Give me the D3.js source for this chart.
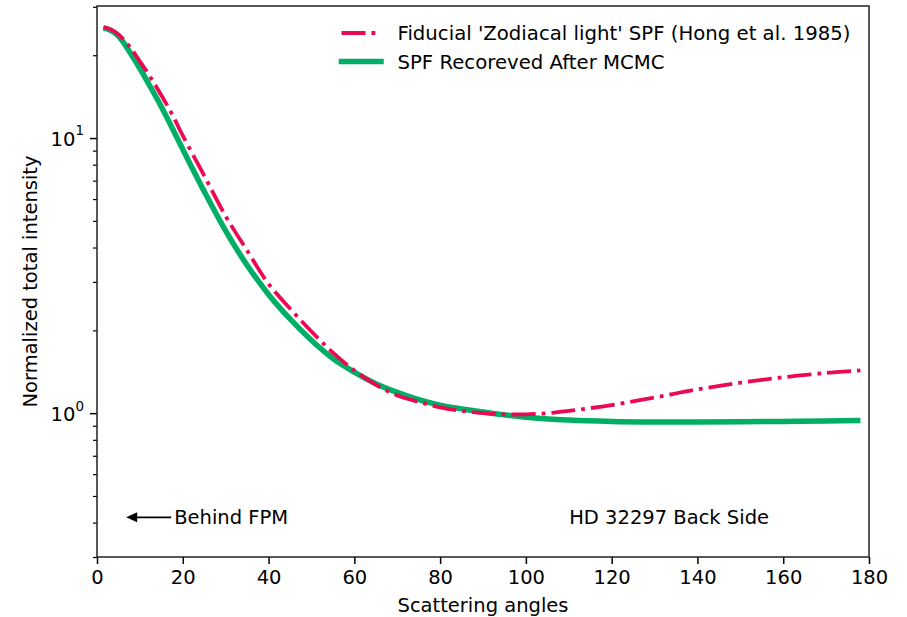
<!DOCTYPE html>
<html>
<head>
<meta charset="utf-8">
<script src="https://cdn.jsdelivr.net/npm/d3@7"></script>
<style>
  body { margin: 0; background: #fff; }
  svg { font-family: "DejaVu Sans", sans-serif; }
</style>
</head>
<body>
  <script>
    // scattering angle (deg) and normalized total intensity
    const fiducialAngles = [1.5, 3, 5, 7.5, 10, 12.5, 15, 17.5, 20, 25, 30, 35, 40, 45, 50, 55, 60, 65, 70, 75, 80, 85, 90, 95, 100, 105, 110, 120, 130, 140, 150, 160, 170, 178];
    const fiducialValues = [25.3, 24.9, 23.8, 21.6, 19.0, 16.6, 14.3, 12.2, 10.2, 7.3, 5.2, 3.9, 2.95, 2.4, 1.98, 1.66, 1.43, 1.27, 1.16, 1.10, 1.05, 1.02, 1.0, 0.99, 0.99, 1.0, 1.02, 1.07, 1.14, 1.22, 1.29, 1.35, 1.40, 1.43];

    const mcmcAngles = [1.5, 3, 5, 7.5, 10, 12.5, 15, 17.5, 20, 25, 30, 35, 40, 45, 50, 55, 60, 65, 70, 75, 80, 90, 100, 110, 120, 130, 140, 150, 160, 170, 178];
    const mcmcValues = [25.1, 24.7, 23.5, 20.7, 17.9, 15.3, 13.0, 10.9, 9.1, 6.4, 4.6, 3.45, 2.7, 2.2, 1.84, 1.58, 1.41, 1.28, 1.19, 1.12, 1.07, 1.01, 0.967, 0.944, 0.933, 0.929, 0.929, 0.931, 0.933, 0.937, 0.94];

    const seriesNames = ["Fiducial 'Zodiacal light' SPF (Hong et al. 1985)", "SPF Recoreved After MCMC"];
    const xTicks = [0, 20, 40, 60, 80, 100, 120, 140, 160, 180];
    const yMajor = [1, 10];
    const yMinor = [0.3, 0.4, 0.5, 0.6, 0.7, 0.8, 0.9, 2, 3, 4, 5, 6, 7, 8, 9, 20, 30];

    const W = 907, H = 617;
    const m = {left: 97, right: 869, top: 6, bottom: 557};

    const x = d3.scaleLinear().domain([0, 180]).range([m.left, m.right]);
    const y = d3.scaleLog().domain([0.3, 30.2]).range([m.bottom, m.top]);

    const svg = d3.select("body").append("svg")
      .attr("width", W).attr("height", H);

    svg.append("clipPath").attr("id", "plot")
      .append("rect")
      .attr("x", m.left).attr("y", m.top)
      .attr("width", m.right - m.left).attr("height", m.bottom - m.top);

    const line = d3.line()
      .x(d => x(d[0]))
      .y(d => y(d[1]))
      .curve(d3.curveCatmullRom.alpha(0.5));

    const red = "#eb0a52", green = "#00ae66";
    const redDash = "24,6,3.8,6";

    const g = svg.append("g").attr("clip-path", "url(#plot)");
    g.append("path")
      .datum(mcmcAngles.map((a, i) => [a, mcmcValues[i]]))
      .attr("d", line)
      .attr("fill", "none")
      .attr("stroke", green)
      .attr("stroke-width", 5.5);
    g.append("path")
      .datum(fiducialAngles.map((a, i) => [a, fiducialValues[i]]))
      .attr("d", line)
      .attr("fill", "none")
      .attr("stroke", red)
      .attr("stroke-width", 3.8)
      .attr("stroke-dasharray", redDash);

    // axes
    const xAxis = svg.append("g")
      .attr("transform", `translate(0,${m.bottom})`)
      .call(d3.axisBottom(x).tickValues(xTicks).tickSize(7).tickPadding(6).tickFormat(d3.format("d")));
    xAxis.select(".domain").remove();
    xAxis.selectAll("text").attr("font-size", 19.5).attr("fill", "#000").attr("font-family", "DejaVu Sans");
    xAxis.selectAll("line").attr("stroke-width", 1.5);

    const yMin = svg.append("g")
      .attr("transform", `translate(${m.left},0)`)
      .call(d3.axisLeft(y).tickValues(yMinor).tickSize(4).tickFormat(""));
    yMin.select(".domain").remove();
    yMin.selectAll("line").attr("stroke-width", 1.2);

    const yMaj = svg.append("g")
      .attr("transform", `translate(${m.left},0)`)
      .call(d3.axisLeft(y).tickValues(yMajor).tickSize(7).tickPadding(6).tickFormat(""));
    yMaj.select(".domain").remove();
    yMaj.selectAll("line").attr("stroke-width", 1.5);
    yMaj.selectAll("text").each(function(d) {
      const t = d3.select(this)
        .attr("font-size", 19.5).attr("fill", "#000").attr("font-family", "DejaVu Sans")
        .attr("dy", "0.36em");
      t.append("tspan").text("10");
      t.append("tspan").attr("font-size", 13.5).attr("dy", "-0.75em").text(Math.round(Math.log10(d)));
    });

    // frame
    svg.append("rect")
      .attr("x", m.left).attr("y", m.top)
      .attr("width", m.right - m.left).attr("height", m.bottom - m.top)
      .attr("fill", "none").attr("stroke", "#222").attr("stroke-width", 1.5);

    // axis labels
    svg.append("text")
      .attr("x", (m.left + m.right) / 2).attr("y", 612)
      .attr("text-anchor", "middle").attr("font-size", 19.5)
      .text("Scattering angles");
    svg.append("text")
      .attr("transform", `translate(37,${(m.top + m.bottom) / 2}) rotate(-90)`)
      .attr("text-anchor", "middle").attr("font-size", 19.5)
      .text("Normalized total intensity");

    // annotations
    const annY = 0.418;
    const tipX = x(6.8), tailX = x(17.3), ay = y(annY);
    svg.append("line")
      .attr("x1", tailX).attr("y1", ay)
      .attr("x2", tipX + 8).attr("y2", ay)
      .attr("stroke", "#000").attr("stroke-width", 1.6);
    svg.append("path")
      .attr("d", `M${tipX},${ay} L${tipX + 11},${ay - 5} L${tipX + 11},${ay + 5} Z`)
      .attr("fill", "#000");
    svg.append("text")
      .attr("x", x(18)).attr("y", ay).attr("dy", "0.36em")
      .attr("font-size", 19.5).text("Behind FPM");
    svg.append("text")
      .attr("x", x(110.1)).attr("y", ay).attr("dy", "0.36em")
      .attr("font-size", 19.5).text("HD 32297 Back Side");

    // legend
    const leg = svg.append("g");
    const legStyles = [
      {color: red, width: 3.8, dash: redDash},
      {color: green, width: 5.5, dash: null}
    ];
    seriesNames.forEach((name, i) => {
      const ly = 33 + i * 28.5;
      leg.append("line")
        .attr("x1", 341.5).attr("x2", 381)
        .attr("y1", ly).attr("y2", ly)
        .attr("stroke", legStyles[i].color)
        .attr("stroke-width", legStyles[i].width)
        .attr("stroke-linecap", i === 1 ? "square" : "butt")
        .attr("stroke-dasharray", legStyles[i].dash);
      leg.append("text")
        .attr("x", 397.5).attr("y", ly).attr("dy", "0.36em")
        .attr("font-size", 19.7).text(name);
    });
  </script>
</body>
</html>
